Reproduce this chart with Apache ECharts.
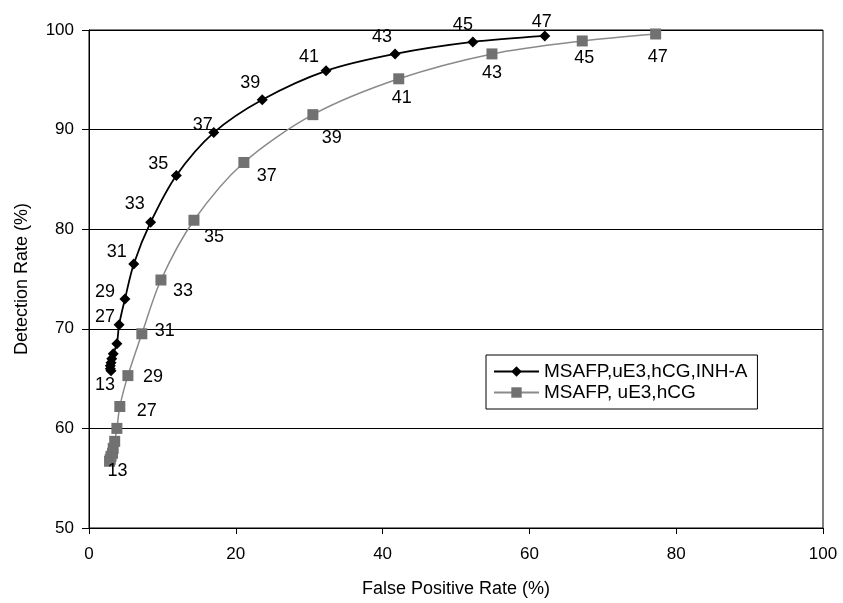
<!DOCTYPE html>
<html>
<head>
<meta charset="utf-8">
<script src="https://cdn.jsdelivr.net/npm/echarts@6/dist/echarts.min.js"></script>
<style>html,body{margin:0;padding:0;background:#fff}#c{width:843px;height:603px}</style>
</head>
<body>
<div id="c"></div>
<script>
// Data
const thresholds = [13, 15, 17, 19, 21, 23, 25, 27, 29, 31, 33, 35, 37, 39, 41, 43, 45, 47];
const seriesNames = ['MSAFP,uE3,hCG,INH-A', 'MSAFP, uE3,hCG'];
const fprInhA = [3.0, 2.9, 2.9, 3.0, 3.1, 3.3, 3.8, 4.1, 4.9, 6.1, 8.4, 11.9, 17.0, 23.6, 32.3, 41.7, 52.3, 62.1];
const drInhA  = [65.8, 66.0, 66.3, 66.6, 67.0, 67.5, 68.5, 70.4, 73.0, 76.5, 80.7, 85.4, 89.7, 93.0, 95.9, 97.6, 98.8, 99.4];
const fprTriple = [2.8, 2.9, 3.0, 3.2, 3.3, 3.5, 3.8, 4.2, 5.3, 7.2, 9.8, 14.3, 21.1, 30.5, 42.2, 54.9, 67.2, 77.2];
const drTriple  = [56.7, 56.9, 57.2, 57.5, 58.0, 58.7, 60.0, 62.2, 65.3, 69.5, 74.9, 80.9, 86.7, 91.5, 95.1, 97.6, 98.9, 99.6];
const labelledThresholds = [13, 27, 29, 31, 33, 35, 37, 39, 41, 43, 45, 47];
const xTicks = [0, 20, 40, 60, 80, 100];
const yTicks = [50, 60, 70, 80, 90, 100];

// Label placement (style only)
const offsBlack = {13:[-6,14],27:[-14,-8],29:[-20,-7],31:[-17,-12],33:[-16,-18],35:[-18,-11],37:[-11,-8],39:[-12,-17],41:[-17,-14],43:[-13,-17],45:[-10,-17],47:[-3,-14]};
const offsGray = {13:[8,10],27:[27,5],29:[25,1],31:[23,-3],33:[22,11],35:[20,17],37:[23,14],39:[19,23],41:[3,19],43:[0,19],45:[2,17],47:[2,23]};
const font = 'Liberation Sans, Arial, sans-serif';

function build(xs, ys, offs) {
  return thresholds.map((t, i) => {
    const item = { value: [xs[i], ys[i]] };
    if (labelledThresholds.includes(t)) {
      item.label = { show: true, formatter: String(t), position: 'inside', offset: offs[t],
        color: '#000', fontSize: 18, fontFamily: font,
        align: 'center', verticalAlign: 'middle' };
    }
    return item;
  });
}

const chart = echarts.init(document.getElementById('c'), null, { renderer: 'canvas' });
chart.setOption({
  animation: false,
  backgroundColor: '#fff',
  grid: { left: 89, right: 20, top: 30, bottom: 72, show: true, borderColor: '#000', borderWidth: 1 },
  xAxis: {
    type: 'value', min: xTicks[0], max: xTicks[xTicks.length - 1], interval: 20,
    name: 'False Positive Rate (%)', nameLocation: 'middle', nameGap: 52,
    nameTextStyle: { fontSize: 18, color: '#000', fontFamily: font },
    axisLine: { show: true, lineStyle: { color: '#000', width: 1 } },
    axisTick: { show: true, length: 6, lineStyle: { color: '#000' } },
    axisLabel: { fontSize: 17, color: '#000', fontFamily: font, margin: 18 },
    splitLine: { show: false }
  },
  yAxis: {
    type: 'value', min: yTicks[0], max: yTicks[yTicks.length - 1], interval: 10,
    name: 'Detection Rate (%)', nameLocation: 'middle', nameGap: 58, nameRotate: 90,
    nameTextStyle: { fontSize: 18, color: '#000', fontFamily: font },
    axisLine: { show: true, lineStyle: { color: '#000', width: 1 } },
    axisTick: { show: true, length: 7, lineStyle: { color: '#000' } },
    axisLabel: { fontSize: 17, color: '#000', fontFamily: font, margin: 15 },
    splitLine: { show: true, lineStyle: { color: '#000', width: 1 } }
  },
  legend: {
    orient: 'vertical', left: 486, top: 355,
    backgroundColor: '#fff', borderColor: '#000', borderWidth: 1,
    padding: [7, 10, 7, 7], itemGap: 2, itemWidth: 45, itemHeight: 13,
    textStyle: { fontSize: 19, color: '#000', fontFamily: font },
    data: seriesNames
  },
  series: [
    {
      name: seriesNames[0], type: 'line', smooth: 0.3,
      symbol: 'diamond', symbolSize: 11,
      itemStyle: { color: '#000' },
      lineStyle: { color: '#000', width: 1.8 },
      data: build(fprInhA, drInhA, offsBlack), z: 3
    },
    {
      name: seriesNames[1], type: 'line', smooth: 0.3,
      symbol: 'rect', symbolSize: 11,
      itemStyle: { color: '#717171' },
      lineStyle: { color: '#8a8a8a', width: 1.5 },
      data: build(fprTriple, drTriple, offsGray), z: 2
    }
  ]
});
</script>
</body>
</html>
